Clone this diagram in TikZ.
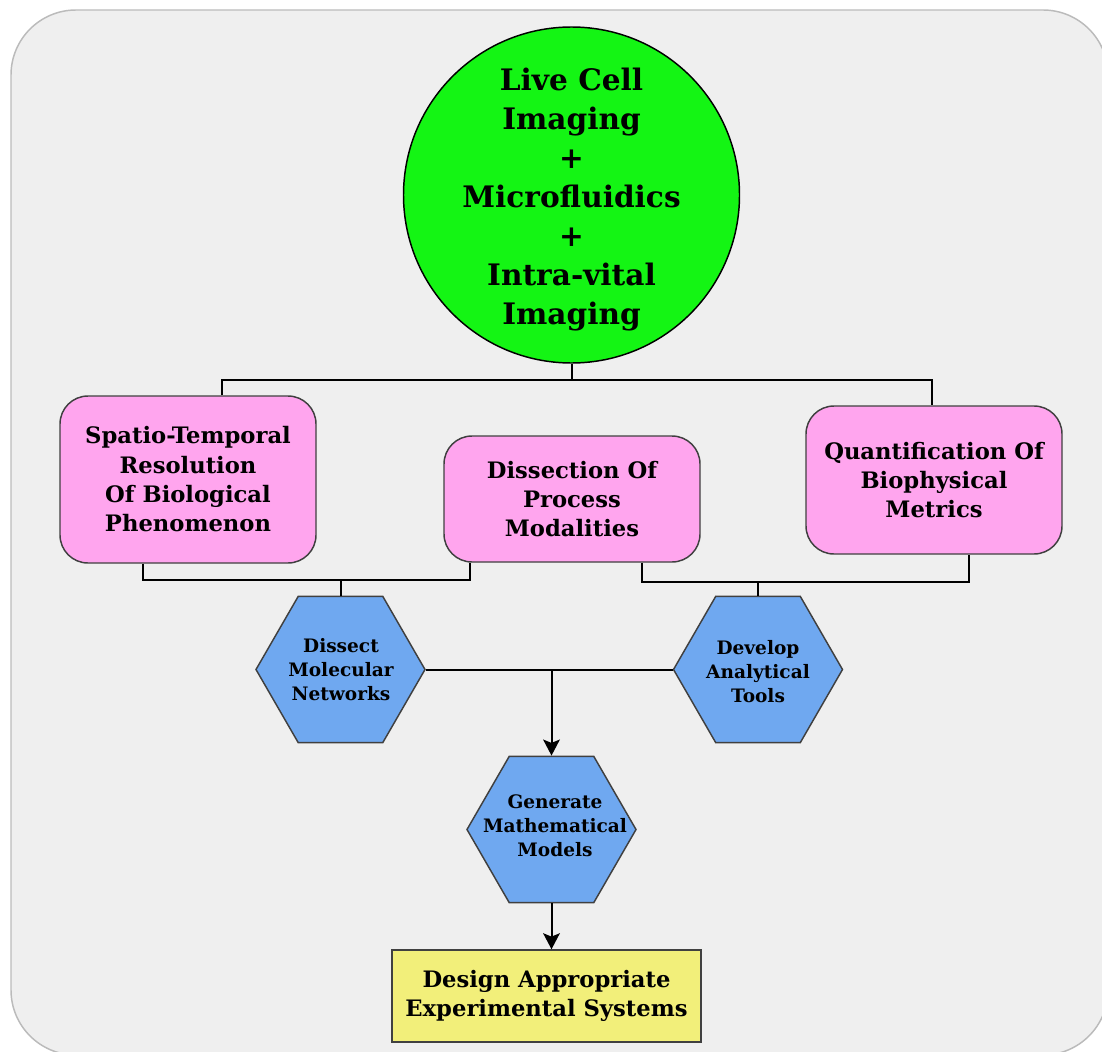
\documentclass[tikz,border=0pt]{standalone}
\usepackage{fontspec}
\setmainfont{DejaVu Serif}
\usetikzlibrary{shapes.geometric,arrows.meta,calc}
\definecolor{bgfill}{HTML}{EFEFEF}
\definecolor{bgline}{HTML}{BBBBBB}
\definecolor{limef}{HTML}{14F514}
\definecolor{pinkf}{HTML}{FFA5EE}
\definecolor{bluef}{HTML}{6FA8F0}
\definecolor{yellf}{HTML}{F2EF7A}
\definecolor{edgec}{HTML}{404040}
\begin{document}
\begin{tikzpicture}[x=0.75pt,y=-0.75pt,
 conn/.style={line width=1.5pt, black},
 arr/.style={conn, -{Stealth[length=12pt,width=12.5pt,inset=2.5pt]}},
 pinkbox/.style={draw=edgec, line width=1.1pt, fill=pinkf, rounded corners=21pt,
   minimum width=192pt, align=center, inner sep=0pt,
   font=\fontsize{17}{22}\selectfont\bfseries},
 hexa/.style={regular polygon, regular polygon sides=6, minimum size=126.75pt,
   inner sep=0pt, draw=edgec, line width=1.1pt, fill=bluef},
 hextext/.style={align=center, inner sep=0pt, font=\fontsize{13.9}{18}\selectfont\bfseries},
 circtext/.style={align=center, inner sep=0pt, font=\fontsize{22.2}{29.25}\selectfont\bfseries},
 yellbox/.style={draw=edgec, line width=1.1pt, fill=yellf, minimum width=231.75pt,
   minimum height=69pt, align=center, inner sep=0pt,
   font=\fontsize{17}{22}\selectfont\bfseries}
]
\useasboundingbox (0,0) rectangle (1102,1052);
\path[fill=bgfill, draw=bgline, line width=1.1pt, rounded corners=48.75pt]
  (11,10) rectangle (1108,1055);

% top circle
\node[circle, draw=black, line width=1.1pt, fill=limef, minimum size=252pt, inner sep=0pt] (circ) at (571.5,195) {};
\node[circtext] (circt) at (571.5,200) {Live Cell\\Imaging\\+\\Microfluidics\\+\\Intra-vital\\Imaging};

% pink boxes
\node[pinkbox, minimum height=125.25pt] (bl) at (188,479.5) {Spatio-Temporal\\Resolution\\Of Biological\\Phenomenon};
\node[pinkbox, minimum height=94.5pt] (bm) at (572,499) {Dissection Of\\Process\\Modalities};
\node[pinkbox, minimum height=111pt] (br) at (934,480) {Quantification Of\\Biophysical\\Metrics};

% hexagons
\node[hexa] (h1) at (340.5,669.5) {};
\node[hextext] (h1t) at (341,670) {Dissect\\Molecular\\Networks};
\node[hexa] (h2) at (758,669.5) {};
\node[hextext] (h2t) at (758,672) {Develop\\Analytical\\Tools};
\node[hexa] (h3) at (551.5,829.5) {};
\node[hextext] (h3t) at (555,826) {Generate\\Mathematical\\Models};

% yellow box
\node[yellbox] (yb) at (546.5,996) {Design Appropriate\\Experimental Systems};

% top connectors
\coordinate (tL) at (222,380);
\coordinate (tR) at (932,380);
\draw[conn] (circ.south) -- (circ.south |- tL);
\draw[conn] (bl.north -| tL) -- (tL) -- (tR) -- (tR |- br.north);
\draw[conn] ($(bm.north)+(20,0)$) -- ($(bm.north)+(20,0)$ |- tL);

% lower connectors
\coordinate (jl) at (340.5,580);
\coordinate (jr) at (758,582);
\draw[conn] ($(bl.south)+(-45,0)$) |- (jl) -| ($(bm.south)+(-102,0)$);
\draw[conn] (jl) -- (h1.north);
\draw[conn] ($(bm.south)+(70,0)$) |- (jr) -| ($(br.south)+(35,0)$);
\draw[conn] (jr) -- (h2.north);

% hex connectors
\draw[conn] (h1.east) -- (h2.west);
\coordinate (hj) at (h3.north |- h1.east);
\draw[arr] (hj) -- (h3.north);
\draw[arr] (h3.south) -- (h3.south |- yb.north);
\end{tikzpicture}
\end{document}
